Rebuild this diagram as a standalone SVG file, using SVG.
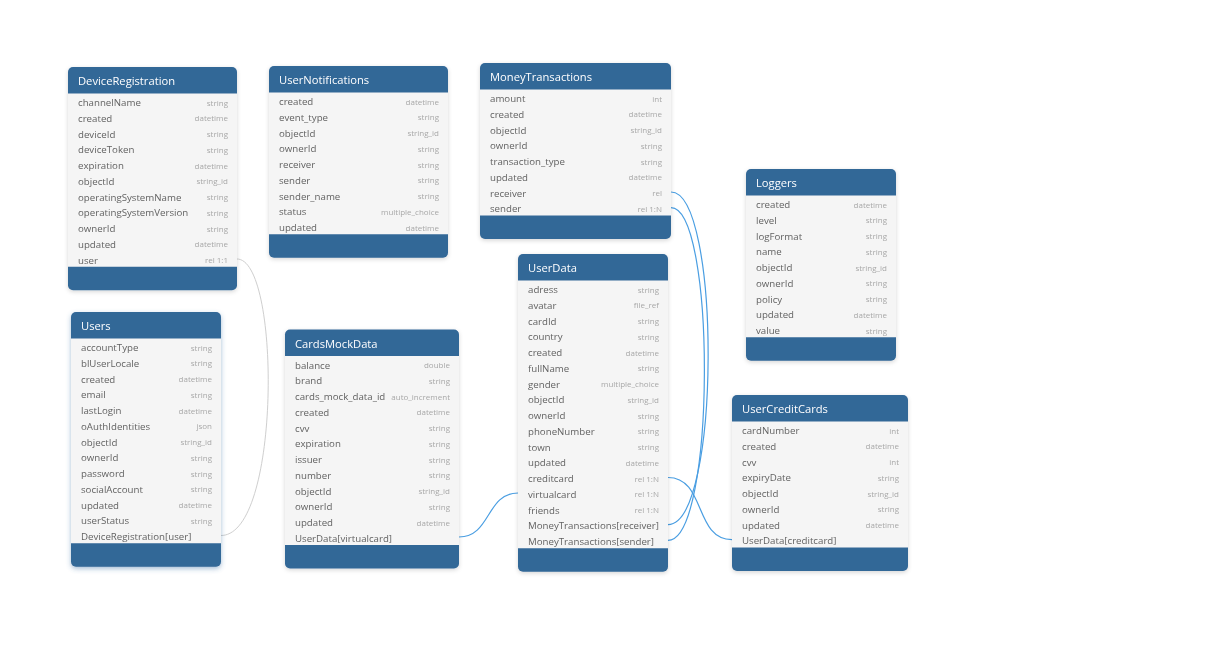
<svg xmlns="http://www.w3.org/2000/svg" width="1211" height="668" viewBox="0 0 1211 668">
<defs>
<filter id="sh" x="-20%" y="-20%" width="140%" height="140%"><feDropShadow dx="0" dy="1.5" stdDeviation="2" flood-color="#000" flood-opacity="0.16"/></filter>
<filter id="shSel" x="-20%" y="-20%" width="140%" height="140%"><feDropShadow dx="0" dy="2" stdDeviation="2.5" flood-color="#3d6fa3" flood-opacity="0.45"/></filter>
<style>
.hdr{fill:#326797}
.bd{fill:#f5f5f5}
.ti{font-family:"Open Sans","Noto Sans",sans-serif;font-size:11.2px;fill:#fff}
.f{font-family:"Open Sans","Noto Sans",sans-serif;font-size:9.7px;fill:#626262}
.t{font-family:"Open Sans","Noto Sans",sans-serif;font-size:8px;fill:#a8a8a8;text-anchor:end}
.rel{fill:none;stroke:#4a9ee2;stroke-width:1.2}
.rel0{fill:none;stroke:#cfcfcf;stroke-width:1}
</style>
</defs>
<rect width="1211" height="668" fill="#fff"/>

<g id="connectors">
<path class="rel0" d="M237,259 C281,259 281,535.5 221,535.5"/>
<path class="rel" d="M671,192 C721,192 721,524.6 668,524.6"/>
<path class="rel" d="M671,207.6 C716,207.6 716,540.4 668,540.4"/>
<path class="rel" d="M668,477.5 C706,477.5 694,539.7 732,539.7"/>
<path class="rel" d="M459,537 C491,537 486,493 518,493"/>
</g>

<g id="DeviceRegistration" transform="translate(68,67)" filter="url(#sh)">
<rect class="hdr" width="169" height="223.25" rx="5"/>
<rect class="bd" y="26.5" width="169" height="173.25"/>
<text class="ti" x="10" y="18">DeviceRegistration</text>
<text class="f" x="10" y="39">channelName</text><text class="t" x="160" y="38.5">string</text>
<text class="f" x="10" y="54.75">created</text><text class="t" x="160" y="54.25">datetime</text>
<text class="f" x="10" y="70.5">deviceId</text><text class="t" x="160" y="70">string</text>
<text class="f" x="10" y="86.25">deviceToken</text><text class="t" x="160" y="85.75">string</text>
<text class="f" x="10" y="102">expiration</text><text class="t" x="160" y="101.5">datetime</text>
<text class="f" x="10" y="117.75">objectId</text><text class="t" x="160" y="117.25">string_id</text>
<text class="f" x="10" y="133.5">operatingSystemName</text><text class="t" x="160" y="133">string</text>
<text class="f" x="10" y="149.25">operatingSystemVersion</text><text class="t" x="160" y="148.75">string</text>
<text class="f" x="10" y="165">ownerId</text><text class="t" x="160" y="164.5">string</text>
<text class="f" x="10" y="180.75">updated</text><text class="t" x="160" y="180.25">datetime</text>
<text class="f" x="10" y="196.5">user</text><text class="t" x="160" y="196">rel 1:1</text>
</g>

<g id="UserNotifications" transform="translate(269,66)" filter="url(#sh)">
<rect class="hdr" width="179" height="191.75" rx="5"/>
<rect class="bd" y="26.5" width="179" height="141.75"/>
<text class="ti" x="10" y="18">UserNotifications</text>
<text class="f" x="10" y="39">created</text><text class="t" x="170" y="38.5">datetime</text>
<text class="f" x="10" y="54.75">event_type</text><text class="t" x="170" y="54.25">string</text>
<text class="f" x="10" y="70.5">objectId</text><text class="t" x="170" y="70">string_id</text>
<text class="f" x="10" y="86.25">ownerId</text><text class="t" x="170" y="85.75">string</text>
<text class="f" x="10" y="102">receiver</text><text class="t" x="170" y="101.5">string</text>
<text class="f" x="10" y="117.75">sender</text><text class="t" x="170" y="117.25">string</text>
<text class="f" x="10" y="133.5">sender_name</text><text class="t" x="170" y="133">string</text>
<text class="f" x="10" y="149.25">status</text><text class="t" x="170" y="148.75">multiple_choice</text>
<text class="f" x="10" y="165">updated</text><text class="t" x="170" y="164.5">datetime</text>
</g>

<g id="MoneyTransactions" transform="translate(480,63)" filter="url(#sh)">
<rect class="hdr" width="191" height="176" rx="5"/>
<rect class="bd" y="26.5" width="191" height="126"/>
<text class="ti" x="10" y="18">MoneyTransactions</text>
<text class="f" x="10" y="39">amount</text><text class="t" x="182" y="38.5">int</text>
<text class="f" x="10" y="54.75">created</text><text class="t" x="182" y="54.25">datetime</text>
<text class="f" x="10" y="70.5">objectId</text><text class="t" x="182" y="70">string_id</text>
<text class="f" x="10" y="86.25">ownerId</text><text class="t" x="182" y="85.75">string</text>
<text class="f" x="10" y="102">transaction_type</text><text class="t" x="182" y="101.5">string</text>
<text class="f" x="10" y="117.75">updated</text><text class="t" x="182" y="117.25">datetime</text>
<text class="f" x="10" y="133.5">receiver</text><text class="t" x="182" y="133">rel</text>
<text class="f" x="10" y="149.25">sender</text><text class="t" x="182" y="148.75">rel 1:N</text>
</g>

<g id="Users" transform="translate(71,312)" filter="url(#shSel)">
<rect class="hdr" width="150" height="254.75" rx="5"/>
<rect class="bd" y="26.5" width="150" height="204.75"/>
<text class="ti" x="10" y="18">Users</text>
<text class="f" x="10" y="39">accountType</text><text class="t" x="141" y="38.5">string</text>
<text class="f" x="10" y="54.75">blUserLocale</text><text class="t" x="141" y="54.25">string</text>
<text class="f" x="10" y="70.5">created</text><text class="t" x="141" y="70">datetime</text>
<text class="f" x="10" y="86.25">email</text><text class="t" x="141" y="85.75">string</text>
<text class="f" x="10" y="102">lastLogin</text><text class="t" x="141" y="101.5">datetime</text>
<text class="f" x="10" y="117.75">oAuthIdentities</text><text class="t" x="141" y="117.25">json</text>
<text class="f" x="10" y="133.5">objectId</text><text class="t" x="141" y="133">string_id</text>
<text class="f" x="10" y="149.25">ownerId</text><text class="t" x="141" y="148.75">string</text>
<text class="f" x="10" y="165">password</text><text class="t" x="141" y="164.5">string</text>
<text class="f" x="10" y="180.75">socialAccount</text><text class="t" x="141" y="180.25">string</text>
<text class="f" x="10" y="196.5">updated</text><text class="t" x="141" y="196">datetime</text>
<text class="f" x="10" y="212.25">userStatus</text><text class="t" x="141" y="211.75">string</text>
<text class="f" x="10" y="228">DeviceRegistration[user]</text>
</g>

<g id="CardsMockData" transform="translate(285,329.5)" filter="url(#sh)">
<rect class="hdr" width="174" height="239" rx="5"/>
<rect class="bd" y="26.5" width="174" height="189"/>
<text class="ti" x="10" y="18">CardsMockData</text>
<text class="f" x="10" y="39">balance</text><text class="t" x="165" y="38.5">double</text>
<text class="f" x="10" y="54.75">brand</text><text class="t" x="165" y="54.25">string</text>
<text class="f" x="10" y="70.5">cards_mock_data_id</text><text class="t" x="165" y="70">auto_increment</text>
<text class="f" x="10" y="86.25">created</text><text class="t" x="165" y="85.75">datetime</text>
<text class="f" x="10" y="102">cvv</text><text class="t" x="165" y="101.5">string</text>
<text class="f" x="10" y="117.75">expiration</text><text class="t" x="165" y="117.25">string</text>
<text class="f" x="10" y="133.5">issuer</text><text class="t" x="165" y="133">string</text>
<text class="f" x="10" y="149.25">number</text><text class="t" x="165" y="148.75">string</text>
<text class="f" x="10" y="165">objectId</text><text class="t" x="165" y="164.5">string_id</text>
<text class="f" x="10" y="180.75">ownerId</text><text class="t" x="165" y="180.25">string</text>
<text class="f" x="10" y="196.5">updated</text><text class="t" x="165" y="196">datetime</text>
<text class="f" x="10" y="212.25">UserData[virtualcard]</text>
</g>

<g id="UserData" transform="translate(518,254)" filter="url(#sh)">
<rect class="hdr" width="150" height="317.75" rx="5"/>
<rect class="bd" y="26.5" width="150" height="267.75"/>
<text class="ti" x="10" y="18">UserData</text>
<text class="f" x="10" y="39">adress</text><text class="t" x="141" y="38.5">string</text>
<text class="f" x="10" y="54.75">avatar</text><text class="t" x="141" y="54.25">file_ref</text>
<text class="f" x="10" y="70.5">cardId</text><text class="t" x="141" y="70">string</text>
<text class="f" x="10" y="86.25">country</text><text class="t" x="141" y="85.75">string</text>
<text class="f" x="10" y="102">created</text><text class="t" x="141" y="101.5">datetime</text>
<text class="f" x="10" y="117.75">fullName</text><text class="t" x="141" y="117.25">string</text>
<text class="f" x="10" y="133.5">gender</text><text class="t" x="141" y="133">multiple_choice</text>
<text class="f" x="10" y="149.25">objectId</text><text class="t" x="141" y="148.75">string_id</text>
<text class="f" x="10" y="165">ownerId</text><text class="t" x="141" y="164.5">string</text>
<text class="f" x="10" y="180.75">phoneNumber</text><text class="t" x="141" y="180.25">string</text>
<text class="f" x="10" y="196.5">town</text><text class="t" x="141" y="196">string</text>
<text class="f" x="10" y="212.25">updated</text><text class="t" x="141" y="211.75">datetime</text>
<text class="f" x="10" y="228">creditcard</text><text class="t" x="141" y="227.5">rel 1:N</text>
<text class="f" x="10" y="243.75">virtualcard</text><text class="t" x="141" y="243.25">rel 1:N</text>
<text class="f" x="10" y="259.5">friends</text><text class="t" x="141" y="259">rel 1:N</text>
<text class="f" x="10" y="275.25">MoneyTransactions[receiver]</text>
<text class="f" x="10" y="291">MoneyTransactions[sender]</text>
</g>

<g id="Loggers" transform="translate(746,169)" filter="url(#sh)">
<rect class="hdr" width="150" height="191.75" rx="5"/>
<rect class="bd" y="26.5" width="150" height="141.75"/>
<text class="ti" x="10" y="18">Loggers</text>
<text class="f" x="10" y="39">created</text><text class="t" x="141" y="38.5">datetime</text>
<text class="f" x="10" y="54.75">level</text><text class="t" x="141" y="54.25">string</text>
<text class="f" x="10" y="70.5">logFormat</text><text class="t" x="141" y="70">string</text>
<text class="f" x="10" y="86.25">name</text><text class="t" x="141" y="85.75">string</text>
<text class="f" x="10" y="102">objectId</text><text class="t" x="141" y="101.5">string_id</text>
<text class="f" x="10" y="117.75">ownerId</text><text class="t" x="141" y="117.25">string</text>
<text class="f" x="10" y="133.5">policy</text><text class="t" x="141" y="133">string</text>
<text class="f" x="10" y="149.25">updated</text><text class="t" x="141" y="148.75">datetime</text>
<text class="f" x="10" y="165">value</text><text class="t" x="141" y="164.5">string</text>
</g>

<g id="UserCreditCards" transform="translate(732,395)" filter="url(#sh)">
<rect class="hdr" width="176" height="176" rx="5"/>
<rect class="bd" y="26.5" width="176" height="126"/>
<text class="ti" x="10" y="18">UserCreditCards</text>
<text class="f" x="10" y="39">cardNumber</text><text class="t" x="167" y="38.5">int</text>
<text class="f" x="10" y="54.75">created</text><text class="t" x="167" y="54.25">datetime</text>
<text class="f" x="10" y="70.5">cvv</text><text class="t" x="167" y="70">int</text>
<text class="f" x="10" y="86.25">expiryDate</text><text class="t" x="167" y="85.75">string</text>
<text class="f" x="10" y="102">objectId</text><text class="t" x="167" y="101.5">string_id</text>
<text class="f" x="10" y="117.75">ownerId</text><text class="t" x="167" y="117.25">string</text>
<text class="f" x="10" y="133.5">updated</text><text class="t" x="167" y="133">datetime</text>
<text class="f" x="10" y="149.25">UserData[creditcard]</text>
</g>
</svg>
